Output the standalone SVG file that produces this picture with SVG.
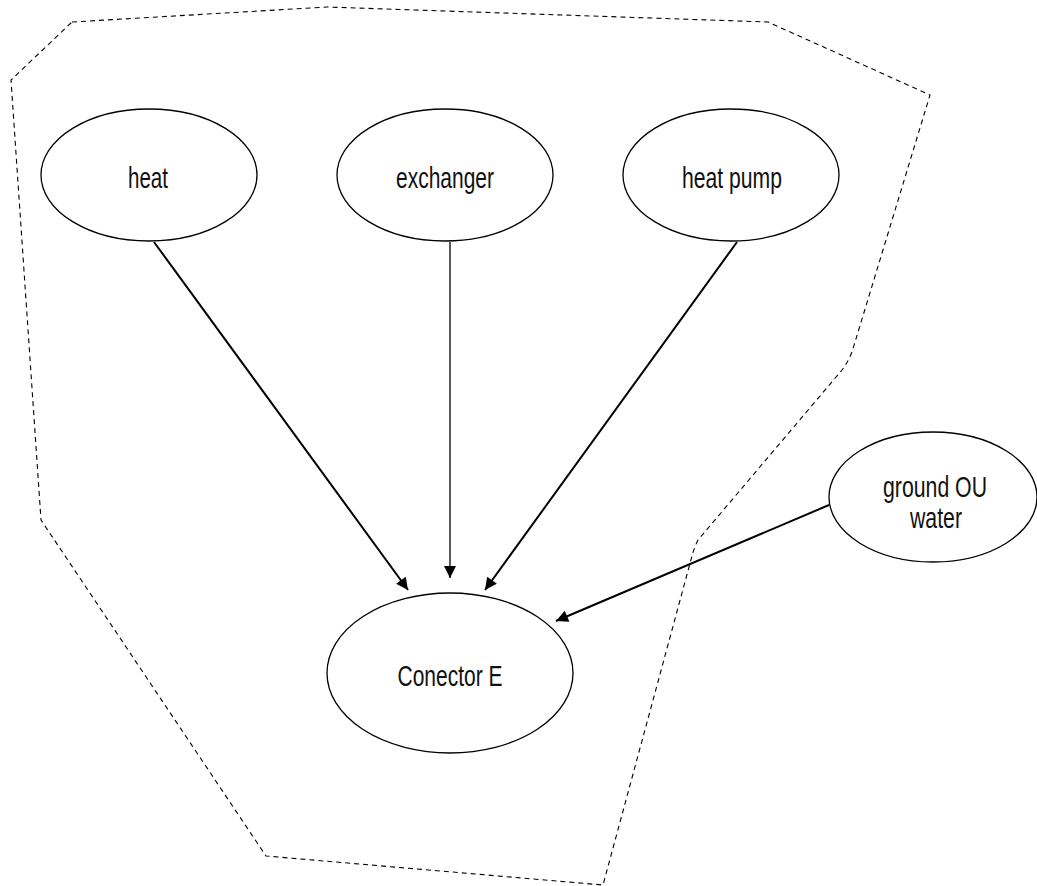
<svg xmlns="http://www.w3.org/2000/svg" width="1037" height="886" viewBox="0 0 1037 886">
  <style>
    .node ellipse { fill: #ffffff; stroke: #000000; stroke-width: 1.3; }
    .node text { font-family: "Liberation Sans", Arial, sans-serif; font-size: 30px; fill: #111111; text-anchor: middle; }
    .edge { stroke: #000000; stroke-width: 2; fill: none; marker-end: url(#arrow); }
    .edge.thin { stroke-width: 1.3; }
    .boundary { fill: none; stroke: #000000; stroke-width: 1.1; stroke-dasharray: 5 4; stroke-linejoin: round; }
  </style>
  <defs>
    <marker id="arrow" viewBox="0 0 10 10" refX="10" refY="5" markerUnits="userSpaceOnUse" markerWidth="16" markerHeight="12" orient="auto">
      <path d="M0,0 L10,5 L0,10 z" fill="#000000"/>
    </marker>
  </defs>
  <rect width="1037" height="886" fill="#ffffff"/>

  <!-- dashed system boundary -->
  <path class="boundary" d="M72,22 L327,7 L768,22 L930,95 L852,352 Q848,362 842,370 L698,540 Q694,548 692,556 L603,885 L266,856 L41,520 L11,80 Z"/>

  <!-- connectors -->
  <g id="connectors">
    <line class="edge" x1="154" y1="242" x2="408" y2="590"/>
    <line class="edge thin" x1="450" y1="242" x2="450" y2="578"/>
    <line class="edge" x1="737" y1="242" x2="485" y2="590"/>
    <line class="edge" x1="829" y1="505" x2="556" y2="621"/>
  </g>

  <!-- nodes -->
  <g id="node-heat" class="node">
    <ellipse cx="149" cy="175" rx="108" ry="66"/>
    <text x="148" y="188" textLength="40" lengthAdjust="spacingAndGlyphs">heat</text>
  </g>
  <g id="node-exchanger" class="node">
    <ellipse cx="445" cy="175" rx="108" ry="66"/>
    <text x="445" y="188" textLength="98" lengthAdjust="spacingAndGlyphs">exchanger</text>
  </g>
  <g id="node-heat-pump" class="node">
    <ellipse cx="731" cy="175" rx="108" ry="66"/>
    <text x="732" y="188" textLength="100" lengthAdjust="spacingAndGlyphs">heat pump</text>
  </g>
  <g id="node-ground-water" class="node">
    <ellipse cx="933" cy="497" rx="104" ry="65"/>
    <text x="935" y="497" textLength="104" lengthAdjust="spacingAndGlyphs">ground OU</text>
    <text x="936" y="528" textLength="52" lengthAdjust="spacingAndGlyphs">water</text>
  </g>
  <g id="node-conector-e" class="node">
    <ellipse cx="450" cy="673" rx="123" ry="80"/>
    <text x="450" y="686" textLength="105" lengthAdjust="spacingAndGlyphs">Conector E</text>
  </g>
</svg>
